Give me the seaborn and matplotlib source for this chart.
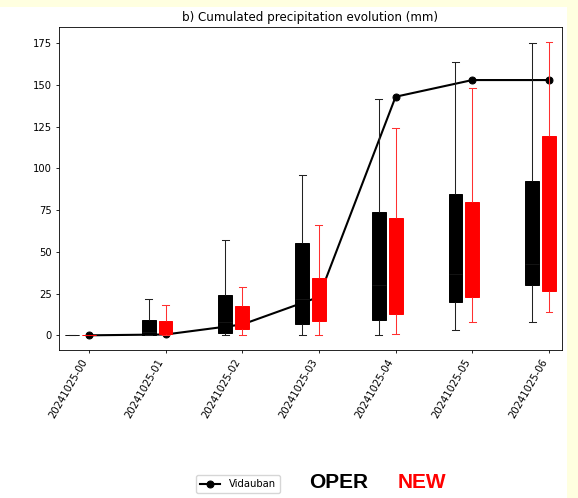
import numpy as np
import pandas as pd
import matplotlib
matplotlib.use("Agg")
import matplotlib.pyplot as plt
from matplotlib.patches import Rectangle
import seaborn as sns

# Forecast lead times (hourly steps on 2024-10-25)
steps = ["20241025-00", "20241025-01", "20241025-02", "20241025-03",
         "20241025-04", "20241025-05", "20241025-06"]

# OPER ensemble: min, Q1, median, Q3, max of cumulated precipitation (mm)
oper_min = [0.0, 0.0, 0.2, 0.0, 0.2, 3.0, 8.0]
oper_q1 = [0.0, 0.2, 1.2, 6.8, 9.2, 19.8, 30.0]
oper_med = [0.0, 2.0, 8.0, 22.0, 30.0, 36.5, 43.0]
oper_q3 = [0.0, 9.2, 24.2, 55.5, 73.7, 84.7, 92.5]
oper_max = [0.0, 21.6, 57.0, 96.0, 141.8, 164.0, 175.0]

# NEW ensemble: min, Q1, median, Q3, max of cumulated precipitation (mm)
new_min = [0.0, 0.0, 0.0, 0.0, 1.0, 8.0, 14.0]
new_q1 = [0.0, 0.5, 3.8, 8.8, 13.0, 23.0, 26.4]
new_med = [0.0, 3.0, 9.0, 18.0, 35.0, 45.0, 60.0]
new_q3 = [0.0, 8.4, 17.8, 34.2, 70.5, 80.1, 119.4]
new_max = [0.0, 18.0, 28.8, 66.0, 124.4, 148.4, 176.0]

# Observed cumulated precipitation at the station
station = "Vidauban"
obs = [0.0, 0.5, 6.5, 23.0, 143.0, 153.0, 153.0]


def long_form(pos, *stats):
    rows = []
    for i, p in enumerate(pos):
        for s in stats:
            rows.append({"pos": p, "value": s[i]})
    return pd.DataFrame(rows)


x = np.arange(len(steps), dtype=float)
oper_df = long_form(x - 0.22, oper_min, oper_q1, oper_med, oper_q3, oper_max)
new_df = long_form(x, new_min, new_q1, new_med, new_q3, new_max)

plt.rcParams.update({
    "axes.linewidth": 0.6,
    "xtick.major.size": 2.5, "ytick.major.size": 2.5,
    "xtick.major.width": 0.6, "ytick.major.width": 0.6,
    "xtick.major.pad": 2.5, "ytick.major.pad": 2.5,
})

fig = plt.figure(figsize=(5.78, 4.98), dpi=100)
fig.patch.set_facecolor("#ffffe0")
fig.add_artist(Rectangle((0, 0), 567 / 578, 491 / 498, transform=fig.transFigure,
                         facecolor="white", edgecolor="none", zorder=-10))
ax = fig.add_axes([59 / 578, 1 - 350 / 498, (562 - 59) / 578, (350 - 27) / 498])

sns.lineplot(x=x, y=obs, ax=ax, color="black", marker="o", markersize=5,
             markeredgecolor="black", linewidth=1.5, label=station,
             legend=False)
obs_line = ax.lines[-1]

box_common = dict(x="pos", y="value", native_scale=True, width=0.18,
                  whis=(0, 100), showfliers=False, ax=ax)
sns.boxplot(data=oper_df, color="black", linecolor="black",
            boxprops=dict(facecolor="black", edgecolor="black", linewidth=0.7),
            whiskerprops=dict(color="#222222", linewidth=0.75),
            capprops=dict(color="#222222", linewidth=0.75),
            medianprops=dict(color="#1c1c1c", linewidth=0.5),
            **box_common)
sns.boxplot(data=new_df, color="red", linecolor="red",
            boxprops=dict(facecolor="red", edgecolor="red", linewidth=0.7),
            whiskerprops=dict(color="#ff3030", linewidth=0.75),
            capprops=dict(color="#ff3030", linewidth=0.75),
            medianprops=dict(color="red", linewidth=0.5),
            **box_common)

# boxes sit on top of the observation curve
for art in list(ax.patches) + list(ax.lines):
    art.set_zorder(3)
obs_line.set_zorder(1.5)
if ax.get_legend() is not None:
    ax.get_legend().remove()

ax.set_xlim(-0.39, 6.17)
ax.set_ylim(-8.8, 184.8)
ax.set_xticks(x)
ax.set_xticklabels(steps, rotation=60, ha="right", fontsize=7.2)
ax.set_yticks([0, 25, 50, 75, 100, 125, 150, 175])
ax.tick_params(axis="y", labelsize=7.2)
ax.set_xlabel("")
ax.set_ylabel("")
ax.set_title("b) Cumulated precipitation evolution (mm)", fontsize=8.6, pad=4.3)

fig.legend([obs_line], [station], loc="center",
           bbox_to_anchor=(238 / 578, 1 - 484 / 498), fontsize=7.2, frameon=True)
fig.text(338.5 / 578, 1 - 482.5 / 498, "OPER", color="black", fontsize=15,
         fontweight="bold", family="Liberation Sans", ha="center", va="center")
fig.text(422 / 578, 1 - 482.5 / 498, "NEW", color="red", fontsize=15,
         fontweight="bold", family="Liberation Sans", ha="center", va="center")

fig.savefig("out.png", dpi=100, facecolor=fig.get_facecolor())
